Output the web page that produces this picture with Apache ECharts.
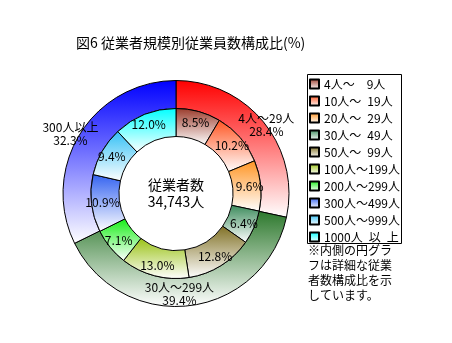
<!DOCTYPE html>
<html><head><meta charset="utf-8">
<script src="https://cdn.jsdelivr.net/npm/echarts@6/dist/echarts.min.js"></script>
<style>html,body{margin:0;padding:0;background:#fff}#c{width:452px;height:343px}</style>
</head><body><div id="c"></div>
<script>
const titleText = '図6 従業者規模別従業員数構成比(%)';
const totalLabel = '従業者数';
const totalValue = '34,743人';
const outerNames = ['4人～29人', '30人～299人', '300人以上'];
const outerValues = [28.4, 39.4, 32.3];
const innerNames = ['4人～　9人', '10人～\u200219人', '20人～\u200229人', '30人～\u200249人', '50人～\u200299人',
  '100人～199人', '200人～299人', '300人～499人', '500人～999人', '1000人\u2002以\u2002上'];
const innerValues = [8.5, 10.2, 9.6, 6.4, 12.8, 13.0, 7.1, 10.9, 9.4, 12.0];
const noteLines = ['※内側の円グラ', 'フは詳細な従業', '者数構成比を示', 'しています。'];

const FONT = '"Noto Sans CJK JP", "Noto Sans", sans-serif';
const outerColors = ['#ff0000', '#2c782c', '#0000ff'];
const innerColors = ['#9a3a2a', '#ff5522', '#ff9422', '#3a8a5a', '#807024', '#99c214', '#14ee14', '#3362f0', '#33c0f5', '#00ffff'];
const outerLabelShift = [[11, -4], [-9, -1], [-19, -6]];
const CX = 176, CY = 193.5;

function grad(c) {
  return new echarts.graphic.LinearGradient(0, 0, 0, 1, [{offset: 0, color: c}, {offset: 1, color: '#ffffff'}]);
}

const chart = echarts.init(document.getElementById('c'), null, {renderer: 'canvas'});
chart.setOption({
  backgroundColor: '#ffffff',
  animation: false,
  textStyle: {fontFamily: FONT},
  title: {
    text: titleText, left: 76, top: 36, padding: 0,
    textStyle: {fontSize: 14, fontWeight: 'normal', color: '#000', fontFamily: FONT}
  },
  legend: {
    data: innerNames, orient: 'vertical', left: 309, top: 78, padding: 0,
    itemWidth: 9, itemHeight: 9, itemGap: 5, selectedMode: false, icon: 'rect',
    textStyle: {fontSize: 12, lineHeight: 12, color: '#000', fontFamily: FONT}
  },
  graphic: [
    {type: 'rect', shape: {x: 307.5, y: 74.5, width: 94, height: 169}, style: {fill: 'none', stroke: '#000', lineWidth: 1}, silent: true},
    {type: 'text', x: CX, y: CY, silent: true, z: 10,
      style: {text: totalLabel + '\n' + totalValue, fill: '#000', font: '14px ' + FONT, align: 'center', verticalAlign: 'middle', lineHeight: 17}},
    {type: 'text', x: 308, y: 243, silent: true,
      style: {text: noteLines.join('\n'), fill: '#000', font: '12px ' + FONT, lineHeight: 15}}
  ],
  series: [
    {
      type: 'pie', name: 'outer', radius: [85, 113], center: [CX, CY], startAngle: 90, clockwise: true,
      avoidLabelOverlap: false, silent: true,
      itemStyle: {borderColor: '#000', borderWidth: 1},
      label: {show: true, position: 'inside', color: '#000', fontSize: 12, lineHeight: 13, fontFamily: FONT,
        formatter: p => p.name + '\n' + p.value.toFixed(1) + '%'},
      labelLine: {show: false},
      labelLayout: p => ({dx: outerLabelShift[p.dataIndex][0], dy: outerLabelShift[p.dataIndex][1]}),
      data: outerNames.map((n, i) => ({name: n, value: outerValues[i], itemStyle: {color: grad(outerColors[i])}}))
    },
    {
      type: 'pie', name: 'inner', radius: [57, 85], center: [CX, CY], startAngle: 90, clockwise: true,
      avoidLabelOverlap: false, silent: true,
      itemStyle: {borderColor: '#000', borderWidth: 1},
      label: {show: true, position: 'inside', color: '#000', fontSize: 12, fontFamily: FONT,
        formatter: p => p.value.toFixed(1) + '%'},
      labelLine: {show: false},
      data: innerNames.map((n, i) => ({name: n, value: innerValues[i], itemStyle: {color: grad(innerColors[i])}}))
    }
  ]
});
</script></body></html>
